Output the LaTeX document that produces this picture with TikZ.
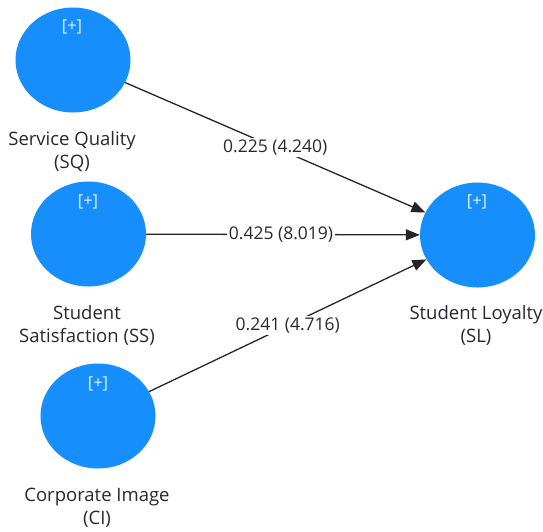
\documentclass[tikz,border=0pt]{standalone}
\usepackage{fontspec}
\setmainfont{Open Sans}
\usetikzlibrary{shapes.geometric,arrows.meta}
\definecolor{latent}{RGB}{22,142,252}
\definecolor{txt}{RGB}{40,40,50}
\tikzset{
  construct/.style={ellipse, fill=latent, draw=none, minimum width=115pt, minimum height=105pt, inner sep=0pt},
  plus/.style={text=white!88!latent, font=\fontsize{16.5}{18}\selectfont},
  caption/.style={text=txt, align=center, font=\fontsize{18.5}{23}\selectfont},
  path/.style={draw=black!85, line width=1.3pt, -{Triangle[length=14pt,width=11pt]}},
  coef/.style={fill=white, text=txt, inner sep=2pt, font=\fontsize{17.5}{20}\selectfont}
}
\begin{document}
\begin{tikzpicture}[x=1pt,y=-1pt]
\useasboundingbox (0,0) rectangle (543,531);
\fill[white] (0,0) rectangle (543,531);
% latent constructs
\node[construct] (SQ) at (73,60) {};
\node[construct] (SS) at (88.5,234) {};
\node[construct] (CI) at (98,416) {};
\node[construct] (SL) at (477.5,235) {};
% expand markers
\node[plus] (pSQ) at (72,27) {[+]};
\node[plus] (pSS) at (88,202) {[+]};
\node[plus] (pCI) at (98,384) {[+]};
\node[plus] (pSL) at (477,202) {[+]};
% construct names
\node[caption] (tSQ) at (72,152) {Service Quality\\(SQ)};
\node[caption] (tSS) at (87,325) {Student\\Satisfaction (SS)};
\node[caption] (tCI) at (97,508) {Corporate Image\\(CI)};
\node[caption] (tSL) at (476,325) {Student Loyalty\\(SL)};
% structural paths with coefficients (t-values)
\draw[path] (SQ) -- (SL) node[coef, midway] (cSQ) {0.225 (4.240)};
\draw[path] (SS) -- (SL) node[coef, midway, xshift=-2pt] (cSS) {0.425 (8.019)};
\draw[path] (CI) -- (SL) node[coef, midway] (cCI) {0.241 (4.716)};
\end{tikzpicture}
\end{document}
